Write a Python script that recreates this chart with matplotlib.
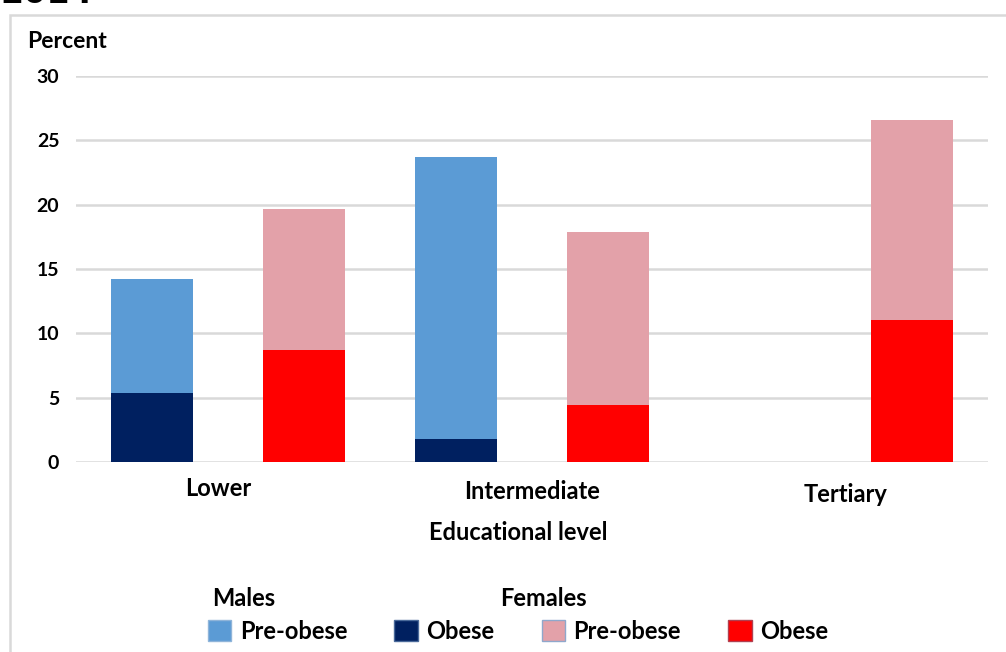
import numpy as np
import matplotlib.pyplot as plt
from matplotlib.patches import Patch, Rectangle
from matplotlib.transforms import ScaledTranslation

plt.rcParams['font.family'] = ['Lato', 'DejaVu Sans']
plt.rcParams['font.weight'] = 'bold'

levels = ["Lower", "Intermediate", "Tertiary"]
males_obese = [5.4, 1.8, 0.0]
males_preobese = [8.8, 21.9, 0.0]
females_obese = [8.7, 4.4, 11.0]
females_preobese = [11.0, 13.5, 15.6]

c_m_pre = "#5B9BD5"
c_m_ob = "#002060"
c_f_pre = "#E3A1A9"
c_f_ob = "#FF0000"

fig = plt.figure(figsize=(10.06, 6.52), dpi=100)
ax = fig.add_axes([0.0755, 0.2914, 0.9065, 0.592])

x = np.arange(len(levels))
w = 0.27
off = 0.25

ax.bar(x - off, males_obese, w, color=c_m_ob, zorder=3)
ax.bar(x - off, males_preobese, w, bottom=males_obese, color=c_m_pre, zorder=3)
ax.bar(x + off, females_obese, w, color=c_f_ob, zorder=3)
ax.bar(x + off, females_preobese, w, bottom=females_obese, color=c_f_pre, zorder=3)

ax.set_xlim(-0.5, 2.5)
ax.set_ylim(0, 30)
ax.set_yticks(range(0, 31, 5))
ax.yaxis.grid(True, color="#d9d9d9", linewidth=1.8)
ax.set_axisbelow(True)
for s in ax.spines.values():
    s.set_visible(False)
ax.tick_params(axis="both", length=0)
ax.tick_params(axis="y", labelsize=14, pad=12)
ax.set_xticks(x)
ax.set_xticklabels(levels, fontsize=17)
ax.tick_params(axis="x", pad=13)
for lbl in ax.get_yticklabels():
    lbl.set_fontweight("bold")
# the labels in the original sit slightly off-centre and staggered
shifts = [(-10, 3), (0, 0), (10, -3)]
for lbl, (dx, dy) in zip(ax.get_xticklabels(), shifts):
    lbl.set_fontweight("bold")
    lbl.set_transform(lbl.get_transform() + ScaledTranslation(dx / 100, dy / 100, fig.dpi_scale_trans))

fig.text(0.027, 0.937, "Percent", fontsize=16.5, fontweight="bold", va="center")
fig.text(0.515, 0.183, "Educational level", fontsize=17, fontweight="bold",
         ha="center", va="center")
fig.text(0.0, 0.985, "2014", fontsize=24, fontweight="bold", va="bottom",
         family="DejaVu Sans")

# chart frame
fig.patches.append(Rectangle((0.01, -0.05), 1.2, 1.027, transform=fig.transFigure,
                             fill=False, edgecolor="#d9d9d9", linewidth=1.8))

fig.text(0.211, 0.082, "Males", fontsize=17, fontweight="bold", va="center")
fig.text(0.497, 0.082, "Females", fontsize=17, fontweight="bold", va="center")

handles = [Patch(facecolor=c_m_pre, edgecolor="#8fb4d9", label="Pre-obese"),
           Patch(facecolor=c_m_ob, edgecolor="#4a6a9a", label="Obese"),
           Patch(facecolor=c_f_pre, edgecolor="#8fa8cc", label="Pre-obese"),
           Patch(facecolor=c_f_ob, edgecolor="#b04050", label="Obese")]
fig.legend(handles=handles, ncol=4, loc="center", bbox_to_anchor=(0.515, 0.032),
           frameon=False, handlelength=1.0, handleheight=1.0,
           handletextpad=0.35, columnspacing=2.0, prop={"weight": "bold", "size": 17})

fig.savefig("out.png", dpi=100)
